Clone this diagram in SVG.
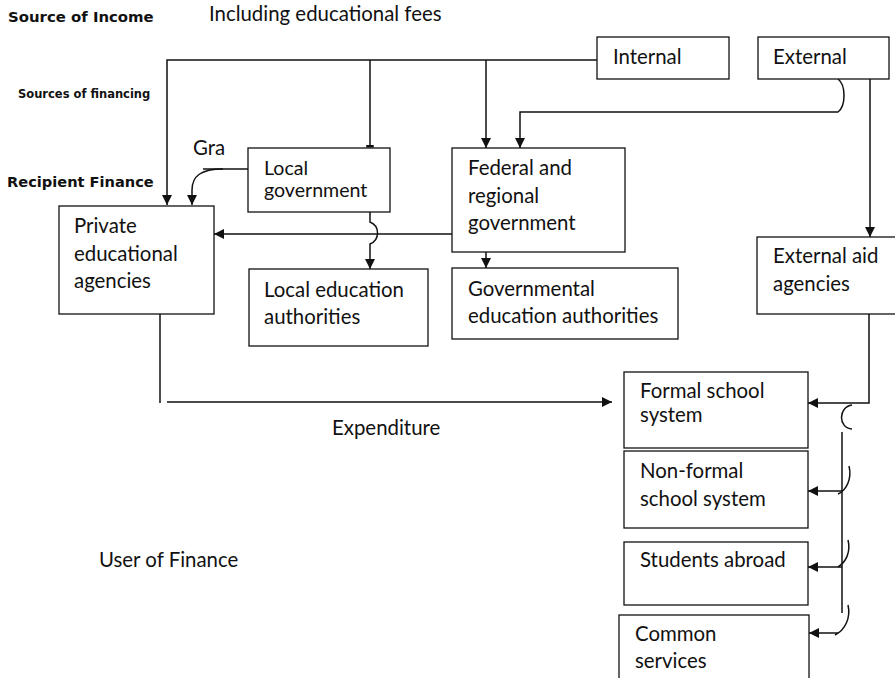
<svg xmlns="http://www.w3.org/2000/svg" width="895" height="678" viewBox="0 0 895 678">
<style>
.box{fill:#fff;stroke:#111;stroke-width:1.3}
.t{font-family:Lato,"Open Sans","Liberation Sans",sans-serif;font-size:20.4px;fill:#111}
.ts{font-size:19.6px}
.b{font-family:"DejaVu Sans","Liberation Sans",sans-serif;font-weight:bold;fill:#111}
.c{fill:none;stroke:#111;stroke-width:1.5}
.a{marker-end:url(#arr)}
</style>
<defs>
<marker id="arr" viewBox="0 0 10 10" refX="10" refY="5" markerWidth="11" markerHeight="10" markerUnits="userSpaceOnUse" orient="auto">
<path d="M0,0 L10,5 L0,10 z" fill="#111"/>
</marker>
<marker id="tee" viewBox="0 0 10 4" refX="5" refY="2" markerWidth="8" markerHeight="3" markerUnits="userSpaceOnUse" orient="0">
<rect x="0" y="0" width="10" height="4" fill="#111"/>
</marker>
</defs>
<rect width="895" height="678" fill="#fff"/>

<g id="labels">
<text class="b" x="8" y="22" font-size="14.9">Source of Income</text>
<text class="t" x="209" y="21">Including educational fees</text>
<text class="b" x="18" y="98" font-size="11.5">Sources of financing</text>
<text class="b" x="7" y="187" font-size="14.6">Recipient Finance</text>
<text class="t" x="193" y="155">Gra</text>
<text class="t" x="332" y="435">Expenditure</text>
<text class="t" x="99" y="567">User of Finance</text>
</g>

<g id="connectors">
<path class="c a" d="M597,60 H167 V205"/>
<path class="c" d="M370,60 V146" marker-end="url(#tee)"/>
<path class="c a" d="M486,60 V148"/>
<path class="c a" d="M838,79 C846,85 846,106 838,112 H520 V148"/>
<path class="c a" d="M870,79 V237"/>
<path class="c" d="M248,169 H203"/>
<path class="c a" d="M223,169 C201,169 192,176 192,190 V205"/>
<path class="c a" d="M452,234 H214"/>
<path class="c a" d="M370,212 V222 C380,226 380,240 370,244 V269"/>
<path class="c a" d="M486,252 V268"/>
<path class="c" d="M160,314 V403"/>
<path class="c a" d="M167,402 H612"/>
<path class="c a" d="M869,314 V403 H808"/>
<path class="c" d="M852,405 C838,407 838,428 852,429"/>
<path class="c" d="M842,432 V613"/>
<path class="c" d="M849,466 C852,478 847,490 838,494"/>
<path class="c a" d="M842,491 H808"/>
<path class="c" d="M848,540 C851,552 846,562 838,567"/>
<path class="c a" d="M842,567 H808"/>
<path class="c" d="M848,605 C851,618 845,630 835,635"/>
<path class="c a" d="M838,633 H809"/>
</g>

<g id="internal"><rect class="box" x="597" y="37" width="132" height="42"/><text class="t" x="613" y="64">Internal</text></g>
<g id="external"><rect class="box" x="758" y="37" width="131" height="42"/><text class="t" x="773" y="64">External</text></g>
<g id="local-government"><rect class="box" x="248" y="148" width="142" height="64"/><text class="t ts" x="264" y="175">Local</text><text class="t ts" x="264" y="197">government</text></g>
<g id="federal-government"><rect class="box" x="452" y="148" width="173" height="104"/><text class="t" x="468" y="175">Federal and</text><text class="t" x="468" y="203">regional</text><text class="t" x="468" y="230">government</text></g>
<g id="private-agencies"><rect class="box" x="59" y="206" width="155" height="108"/><text class="t" x="74" y="233">Private</text><text class="t" x="74" y="261">educational</text><text class="t" x="74" y="288">agencies</text></g>
<g id="local-education"><rect class="box" x="249" y="269" width="179" height="77"/><text class="t" x="264" y="297">Local education</text><text class="t" x="264" y="324">authorities</text></g>
<g id="governmental-education"><rect class="box" x="452" y="268" width="226" height="71"/><text class="t" x="468" y="296">Governmental</text><text class="t" x="468" y="323">education authorities</text></g>
<g id="external-aid"><rect class="box" x="757" y="237" width="142" height="77"/><text class="t" x="773" y="263">External aid</text><text class="t" x="773" y="291">agencies</text></g>
<g id="formal-school"><rect class="box" x="624" y="372" width="184" height="76"/><text class="t" x="640" y="398">Formal school</text><text class="t" x="640" y="422">system</text></g>
<g id="non-formal-school"><rect class="box" x="624" y="451" width="184" height="77"/><text class="t" x="640" y="478">Non-formal</text><text class="t" x="640" y="506">school system</text></g>
<g id="students-abroad"><rect class="box" x="624" y="542" width="184" height="63"/><text class="t" x="640" y="567">Students abroad</text></g>
<g id="common-services"><rect class="box" x="619" y="615" width="190" height="75"/><text class="t" x="635" y="641">Common</text><text class="t" x="635" y="668">services</text></g>
</svg>
